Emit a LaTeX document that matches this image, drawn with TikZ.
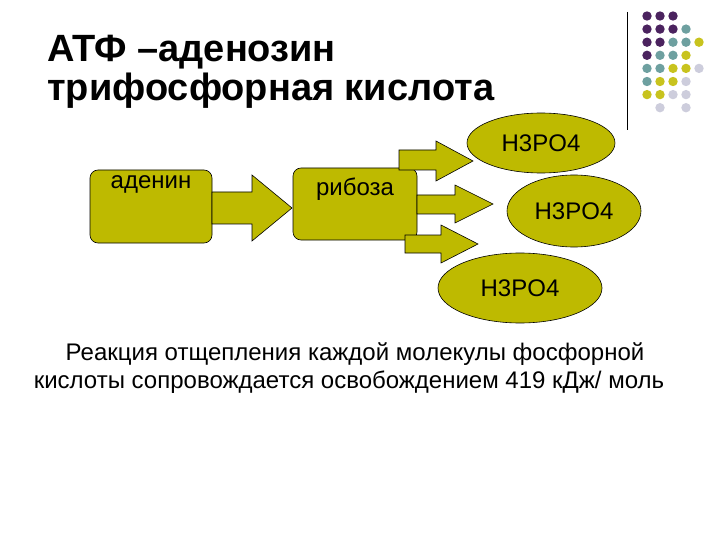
\documentclass[tikz,border=0pt]{standalone}
\usepackage{fontspec}
\setmainfont{Liberation Sans}
\usetikzlibrary{shapes.geometric}
\definecolor{olive}{RGB}{190,186,0}
\definecolor{dP}{RGB}{75,35,95}
\definecolor{dT}{RGB}{110,160,160}
\definecolor{dY}{RGB}{200,195,30}
\definecolor{dL}{RGB}{205,205,220}
\begin{document}
\begin{tikzpicture}[x=1pt,y=-1pt,
  box/.style={draw=black,fill=olive,rounded corners=8pt,line width=0.6pt},
  ell/.style={draw=black,fill=olive,ellipse,line width=0.6pt,inner sep=0pt},
  lbl/.style={font=\fontsize{24}{26}\selectfont}]
\useasboundingbox (0,0) rectangle (720,540);
% title
\node[anchor=base west,inner sep=0pt,font=\bfseries\fontsize{38}{40}\selectfont] (t1) at (47,62) {АТФ –аденозин};
\node[anchor=base west,inner sep=0pt,font=\bfseries\fontsize{38}{40}\selectfont] (t2) at (47,101) {трифосфорная кислота};
% decoration
\draw[line width=0.8pt] (627,12) coordinate (l1) -- (627,130) coordinate (l2);
\foreach \c [count=\r from 0] in {{P,P,P,N,N},{P,P,P,T,N},{P,P,T,T,Y},{P,T,T,Y,N},{T,T,Y,Y,L},{T,Y,Y,L,N},{Y,Y,L,L,N},{N,L,N,L,N}}{
  \foreach \k [count=\i from 0] in \c {
    \if\k N\else
      \fill[d\k] (647+13*\i,16+13.1*\r) circle (4.7);
    \fi
  }
}
% boxes
\path[box] (90,170) rectangle (212,243);
\node[lbl,anchor=north] (a) at (151,172) {аденин};
\path[box] (293,168) rectangle (417,240);
\node[lbl,anchor=north] (r) at (355,174) {рибоза};
% arrows
\draw[fill=olive,line width=0.6pt] (212,192) -- (252,192) -- (252,175) -- (292,208) -- (252,241) -- (252,224) -- (212,224) -- cycle;
\draw[fill=olive,line width=0.6pt] (399,150) -- (436,150) -- (436,141) -- (473,161) -- (436,181) -- (436,170) -- (399,170) -- cycle;
\draw[fill=olive,line width=0.6pt] (417,195) -- (455,195) -- (455,185) -- (493,204) -- (455,223) -- (455,214) -- (417,214) -- cycle;
\draw[fill=olive,line width=0.6pt] (405,235) -- (441,235) -- (441,225) -- (478,244) -- (441,263) -- (441,253) -- (405,253) -- cycle;
% ellipses
\node[ell,lbl,minimum width=148pt,minimum height=60pt] (e1) at (541,143) {H3PO4};
\node[ell,lbl,minimum width=134pt,minimum height=72pt] (e2) at (574,211) {H3PO4};
\node[ell,lbl,minimum width=164pt,minimum height=70pt] (e3) at (520,288) {H3PO4};
% text
\node[align=center,inner sep=0pt,font=\fontsize{24}{28}\selectfont] (txt) at (349,368) {\hspace*{12pt}Реакция отщепления каждой молекулы фосфорной\\кислоты сопровождается освобождением 419 кДж/ моль};
\end{tikzpicture}
\end{document}
